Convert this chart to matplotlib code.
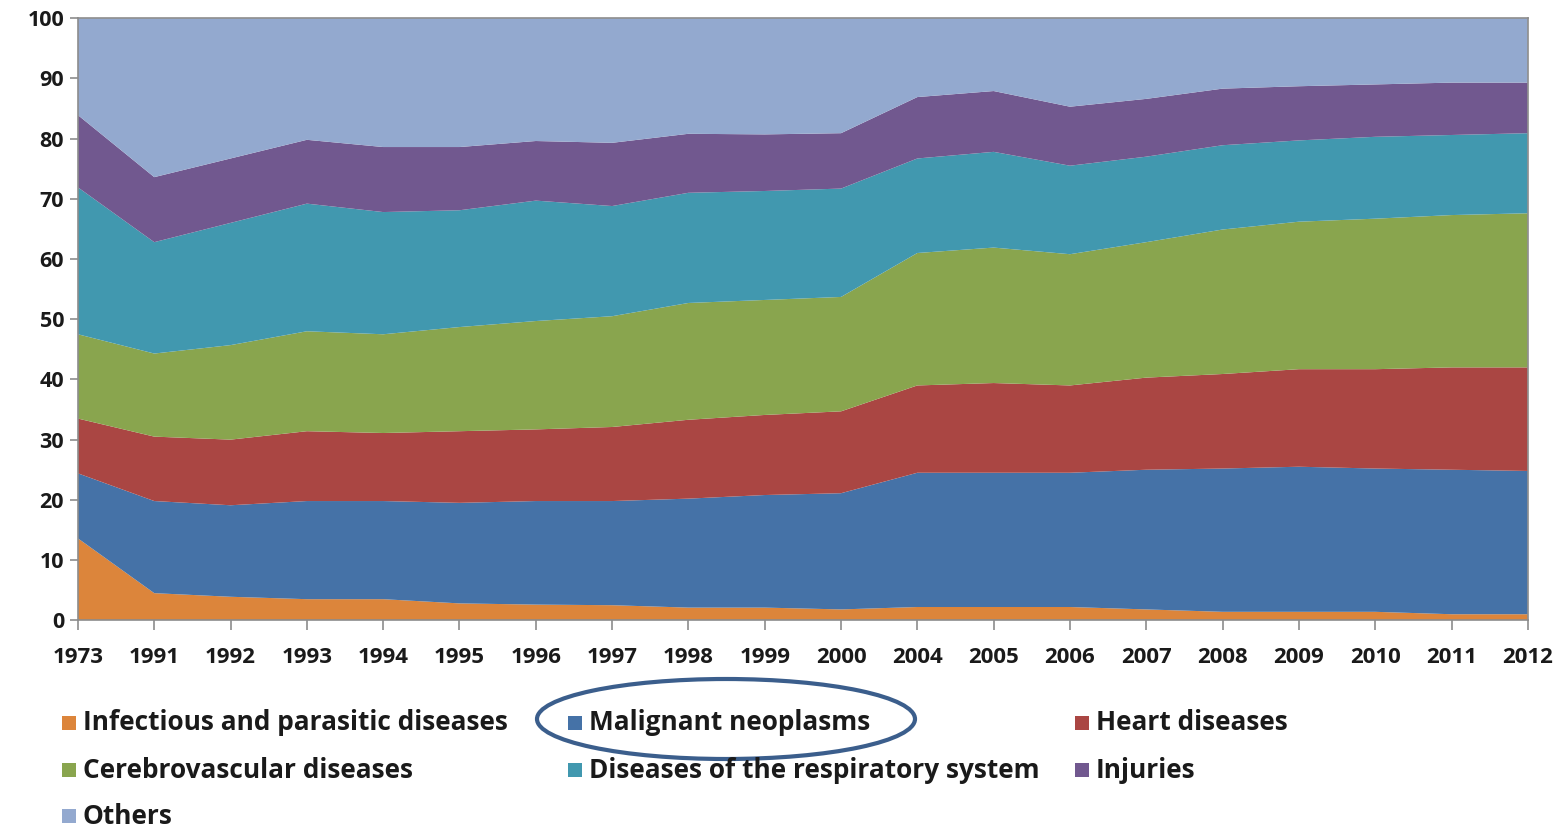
import matplotlib.pyplot as plt
from matplotlib.patches import Ellipse, Rectangle

# years on the (categorical) x axis
years = ["1973", "1991", "1992", "1993", "1994", "1995", "1996", "1997", "1998", "1999",
         "2000", "2004", "2005", "2006", "2007", "2008", "2009", "2010", "2011", "2012"]

# share of deaths by cause (%)
infectious = [13.6, 4.5, 3.9, 3.5, 3.5, 2.8, 2.6, 2.5, 2.1, 2.1,
              1.8, 2.2, 2.2, 2.2, 1.8, 1.4, 1.4, 1.4, 1.0, 1.0]
malignant = [10.8, 15.3, 15.2, 16.3, 16.3, 16.7, 17.2, 17.3, 18.1, 18.7,
             19.3, 22.3, 22.3, 22.3, 23.2, 23.8, 24.1, 23.8, 24.0, 23.8]
heart = [9.1, 10.7, 10.9, 11.6, 11.3, 11.9, 11.9, 12.3, 13.1, 13.3,
         13.6, 14.5, 14.9, 14.5, 15.3, 15.7, 16.2, 16.5, 17.0, 17.2]
cerebro = [14.0, 13.8, 15.7, 16.6, 16.4, 17.3, 18.0, 18.4, 19.4, 19.1,
           19.0, 22.0, 22.5, 21.8, 22.5, 24.0, 24.5, 25.0, 25.3, 25.6]
respiratory = [24.4, 18.5, 20.3, 21.2, 20.3, 19.4, 20.0, 18.3, 18.3, 18.1,
               18.0, 15.7, 15.9, 14.7, 14.2, 14.0, 13.5, 13.6, 13.3, 13.3]
injuries = [12.0, 10.8, 10.7, 10.6, 10.8, 10.5, 9.9, 10.5, 9.8, 9.4,
            9.2, 10.2, 10.1, 9.8, 9.6, 9.4, 9.0, 8.7, 8.7, 8.4]
others = [16.1, 26.4, 23.3, 20.2, 21.4, 21.4, 20.4, 20.7, 19.2, 19.3,
          19.1, 13.1, 12.1, 14.7, 13.4, 11.7, 11.3, 11.0, 10.7, 10.7]

labels = ["Infectious and parasitic diseases", "Malignant neoplasms", "Heart diseases",
          "Cerebrovascular diseases", "Diseases of the respiratory system", "Injuries", "Others"]
colors = ["#DC853B", "#4572A7", "#AA4643", "#89A54E", "#4198AF", "#71588F", "#93A9CF"]

plt.rcParams['font.family'] = ['Open Sans', 'DejaVu Sans']

W, H = 1559, 827
fig = plt.figure(figsize=(W / 100, H / 100), dpi=100)
ax = fig.add_axes([0.050, 0.250, 0.930, 0.728])

x = list(range(len(years)))
polys = ax.stackplot(x, infectious, malignant, heart, cerebro, respiratory, injuries, others,
                     colors=colors, labels=labels, linewidth=0)

ax.set_xlim(0, len(years) - 1)
ax.set_ylim(0, 100)
ax.set_xticks(x)
ax.set_xticklabels(years)
ax.set_yticks(range(0, 101, 10))

for s in ax.spines.values():
    s.set_color("#8C8C8C")
    s.set_linewidth(1.2)
ax.tick_params(axis='x', direction='out', length=7, color="#8C8C8C", width=1.2,
               labelsize=16, pad=12)
ax.tick_params(axis='y', direction='out', length=6, color="#8C8C8C", width=1.2,
               labelsize=15.5, pad=4)
for t in ax.get_xticklabels() + ax.get_yticklabels():
    t.set_fontweight("bold")
    t.set_color("#1A1A1A")

# legend drawn by hand, laid out row-wise in three columns like the original
col_x = [62, 568, 1075]
row_y = [723, 770, 816]
for i, (lab, col) in enumerate(zip(labels, colors)):
    px = col_x[i % 3]
    py = row_y[i // 3]
    fig.add_artist(Rectangle((px / W, 1 - (py + 7) / H), 14 / W, 14 / H,
                             transform=fig.transFigure, facecolor=col, edgecolor="none"))
    fig.text((px + 21) / W, 1 - py / H, lab, fontsize=18.9, fontweight="bold",
             color="#1A1A1A", va="center", ha="left")

# the hand-drawn ring around "Malignant neoplasms"
ring = Ellipse((726 / W, 1 - 719 / H), 378 / W, 80 / H,
               transform=fig.transFigure, fill=False, edgecolor="#3B5E8C", linewidth=3)
fig.add_artist(ring)

plt.savefig("out.png", dpi=100)
